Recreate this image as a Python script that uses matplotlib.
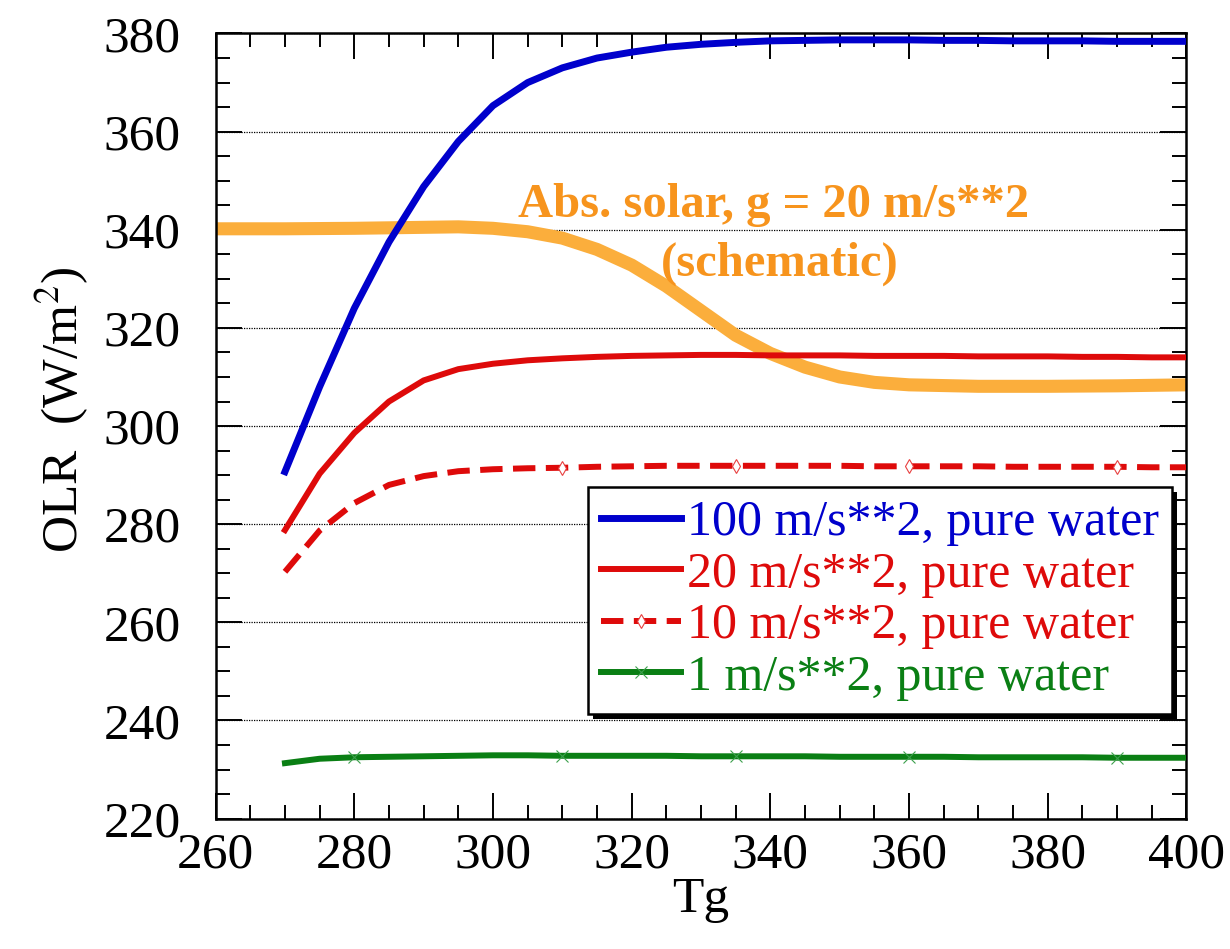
import matplotlib
matplotlib.use('Agg')
import matplotlib.pyplot as plt
import matplotlib.transforms as mtransforms
from matplotlib.patches import Rectangle
from matplotlib.ticker import MultipleLocator

plt.rcParams['font.family'] = ['Liberation Serif', 'DejaVu Serif']
plt.rcParams['mathtext.fontset'] = 'stix'

# 地表温度 (K)，5 K 间隔
tg = [270, 275, 280, 285, 290, 295, 300, 305, 310, 315, 320, 325, 330, 335,
      340, 345, 350, 355, 360, 365, 370, 375, 380, 385, 390, 395, 400]

olr_g100 = [290.7, 308.0, 324.0, 337.5, 348.8, 358.0, 365.3, 370.0, 373.0, 375.0,
            376.2, 377.2, 377.8, 378.2, 378.5, 378.6, 378.7, 378.7, 378.7, 378.6,
            378.6, 378.5, 378.5, 378.5, 378.4, 378.4, 378.4]
olr_g20 = [278.8, 290.3, 298.6, 305.0, 309.3, 311.6, 312.7, 313.4, 313.8, 314.1,
           314.3, 314.4, 314.5, 314.5, 314.4, 314.4, 314.4, 314.3, 314.3, 314.3,
           314.2, 314.2, 314.2, 314.1, 314.1, 314.0, 314.0]
olr_g10 = [270.3, 278.7, 284.3, 288.0, 289.8, 290.8, 291.2, 291.4, 291.5, 291.7,
           291.8, 291.9, 291.9, 291.9, 291.9, 291.9, 291.9, 291.8, 291.8, 291.8,
           291.8, 291.7, 291.7, 291.7, 291.7, 291.6, 291.6]
olr_g1 = [231.3, 232.2, 232.5, 232.6, 232.7, 232.8, 232.9, 232.9, 232.8, 232.8,
          232.8, 232.8, 232.7, 232.7, 232.7, 232.7, 232.6, 232.6, 232.6, 232.6,
          232.5, 232.5, 232.5, 232.5, 232.4, 232.4, 232.4]
marker_idx_g10 = [8, 13, 18, 24]
marker_idx_g1 = [2, 8, 13, 18, 24]

# 吸收太阳辐射（示意）
tg_solar = [261, 270, 280, 290, 295, 300, 305, 310, 315, 320, 325, 330, 335,
            340, 345, 350, 355, 360, 370, 380, 390, 400]
abs_solar = [340.2, 340.2, 340.3, 340.5, 340.6, 340.3, 339.6, 338.3, 336.0, 332.8,
             328.5, 323.5, 318.5, 314.8, 312.0, 310.0, 308.9, 308.4, 308.1, 308.1,
             308.2, 308.4]

labels = ['100 m/s**2, pure water', '20 m/s**2, pure water',
          '10 m/s**2, pure water', '1 m/s**2, pure water']

BLUE = '#0000CC'
RED = '#DE0A0A'
GREEN = '#0A7F14'
ORANGE_LINE = '#FBAE3C'
ORANGE_TEXT = '#F7941D'
FS = 37

fig = plt.figure(figsize=(12.3, 9.49), dpi=100)
ax = fig.add_axes([0.1753, 0.1374, 0.7893, 0.8273])

ax.plot(tg_solar, abs_solar, color=ORANGE_LINE, lw=9.4, solid_joinstyle='round',
        zorder=2)
ax.plot(tg, olr_g100, color=BLUE, lw=5.0, label=labels[0], zorder=3)
ax.plot(tg, olr_g20, color=RED, lw=4.3, label=labels[1], zorder=3)
ax.plot(tg, olr_g10, color=RED, lw=4.3, dashes=(3.75, 1.75), dash_capstyle='butt',
        marker='d', markevery=marker_idx_g10, markersize=7, markerfacecolor='white',
        markeredgecolor='#E84040', markeredgewidth=0.8, label=labels[2], zorder=3)
ax.plot(tg, olr_g1, color=GREEN, lw=4.3, marker='x', markevery=marker_idx_g1,
        markersize=8, markeredgecolor='#3DA04D', markeredgewidth=0.8,
        label=labels[3], zorder=3)

ax.text(340.5, 345.1, 'Abs. solar, g = 20 m/s**2', color=ORANGE_TEXT,
        fontsize=35, fontweight='bold', ha='center', va='center')
ax.text(341.4, 333.1, '(schematic)', color=ORANGE_TEXT,
        fontsize=35, fontweight='bold', ha='center', va='center')

ax.set_xlim(260, 400)
ax.set_ylim(220, 380)
ax.xaxis.set_major_locator(MultipleLocator(20))
ax.xaxis.set_minor_locator(MultipleLocator(5))
ax.yaxis.set_major_locator(MultipleLocator(20))
ax.yaxis.set_minor_locator(MultipleLocator(5))
ax.tick_params(which='both', direction='in', top=True, right=True, width=1.4)
ax.tick_params(which='major', length=18.5)
ax.tick_params(which='minor', length=10)
ax.tick_params(axis='x', which='major', labelsize=FS, pad=10)
ax.tick_params(axis='y', which='major', labelsize=FS, pad=25)
for sp in ax.spines.values():
    sp.set_linewidth(1.8)
ax.yaxis.grid(True, which='major', linestyle=(0, (1, 1)), color='black', lw=0.9)

ax.set_xlabel('Tg', fontsize=FS, labelpad=-2)
ax.set_ylabel('OLR  (W/m$^2$)', fontsize=FS)
ax.yaxis.set_label_coords(-0.128, 0.52)

leg = ax.legend(loc='upper left', bbox_to_anchor=(0.3836, 0.4224), borderaxespad=0,
                fontsize=36, labelcolor='linecolor', fancybox=False,
                edgecolor='black', framealpha=1, handlelength=1.6,
                handletextpad=0.12, labelspacing=0.1, borderpad=0.26)
leg.get_frame().set_linewidth(1.8)
leg.set_zorder(6)

# 图例阴影（黑色，向右下偏移）
fig.canvas.draw()
bb = leg.get_window_extent(fig.canvas.get_renderer())
shadow = Rectangle((bb.x0 + 5, bb.y0 - 5), bb.width, bb.height, facecolor='black',
                   edgecolor='none', transform=mtransforms.IdentityTransform(),
                   zorder=5.5, clip_on=False)
ax.add_patch(shadow)

fig.savefig('out.png', dpi=100)
plt.close(fig)
